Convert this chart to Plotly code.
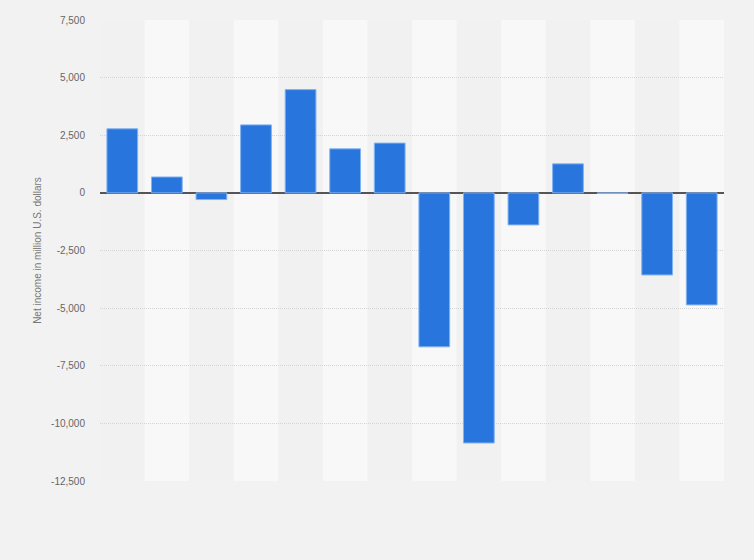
import plotly.graph_objects as go

# Net income per period (million U.S. dollars)
periods = ["P1", "P2", "P3", "P4", "P5", "P6", "P7",
           "P8", "P9", "P10", "P11", "P12", "P13", "P14"]
net_income = [2780, 690, -290, 2950, 4480, 1910, 2160,
              -6680, -10850, -1390, 1260, -25, -3560, -4860]

y_ticks = [7500, 5000, 2500, 0, -2500, -5000, -7500, -10000, -12500]
y_tick_text = [f"{v:,}" for v in y_ticks]

fig = go.Figure()

fig.add_trace(go.Bar(x=periods,
                     y=net_income,
                     marker=dict(color="#2876dd",
                                 line=dict(color="#82b2f0", width=1)),
                     hoverinfo="y"))

# alternating column shading behind the bars
for i in range(len(periods)):
    if i % 2 == 1:
        fig.add_shape(type="rect", xref="x", yref="paper",
                      x0=i - 0.5, x1=i + 0.5, y0=0, y1=1,
                      fillcolor="#f8f8f8", line_width=0, layer="below")

fig.update_layout(width=754, height=560,
                  margin=dict(l=100, r=30, t=20, b=79),
                  paper_bgcolor="#f2f2f2",
                  plot_bgcolor="#f1f1f1",
                  bargap=0.31,
                  showlegend=False,
                  font=dict(family="Arial, Liberation Sans, sans-serif",
                            color="#666666", size=10))

fig.update_xaxes(showticklabels=False,
                 showgrid=False,
                 zeroline=False,
                 range=[-0.5, len(periods) - 0.5])

fig.update_yaxes(range=[-12500, 7500],
                 tickvals=y_ticks,
                 ticktext=y_tick_text,
                 showgrid=True,
                 gridcolor="#d4d4d4",
                 griddash="1px,1px",
                 zeroline=True,
                 zerolinecolor="#555555",
                 zerolinewidth=1.5,
                 ticks="",
                 ticklabelstandoff=14,
                 title=dict(text="Net income in million U.S. dollars",
                            font=dict(size=10, color="#777777"),
                            standoff=7))

# drop the page margin so the figure fills the window
fig.write_html("out.html",
               config={"displayModeBar": False},
               post_script="document.body.style.margin='0';")
